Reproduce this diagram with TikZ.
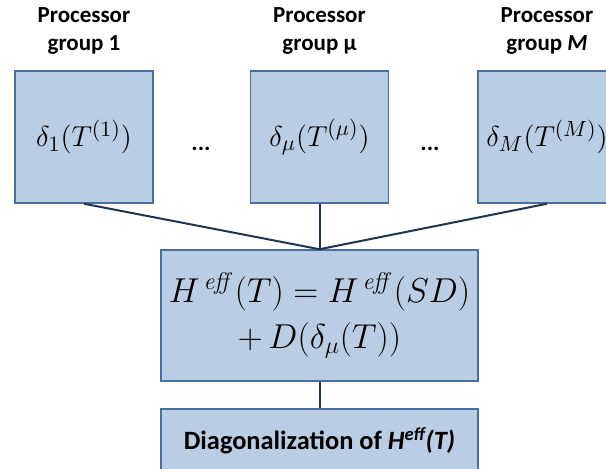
\documentclass[tikz,border=0pt]{standalone}
\usepackage[no-math]{fontspec}
\setmainfont{Carlito}
\definecolor{boxfill}{HTML}{B9CDE5}
\definecolor{boxline}{HTML}{4A6F9C}
\definecolor{wire}{HTML}{1F3552}
\tikzset{
  groupbox/.style={draw=boxline, fill=boxfill, line width=0.75pt,
    minimum width=69pt, minimum height=66pt, inner sep=0pt,
    font=\fontsize{15}{18}\selectfont},
  sumbox/.style={draw=boxline, fill=boxfill, line width=0.75pt,
    minimum width=158.5pt, minimum height=65.5pt, inner sep=0pt, align=center,
    font=\fontsize{17}{21}\selectfont},
  grouplabel/.style={align=center, font=\bfseries\fontsize{11.5}{13.5}\selectfont},
  wire/.style={draw=wire, line width=1pt}
}
\begin{document}
\begin{tikzpicture}[x=0.5pt, y=-0.5pt]
    \useasboundingbox (0,0) rectangle (606,469);
    \clip (0,0) rectangle (606,469);

    % labels of the processor groups
    \node[grouplabel] (lab1) at (84,31) {Processor\\group 1};
    \node[grouplabel] (labmu) at (319.5,31) {Processor\\group μ};
    \node[grouplabel] (labM) at (547,31) {Processor\\group \textit{M}};

    % one box per processor group
    \node[groupbox] (g1) at (84,137) {$\delta_{1}(T^{(1)})$};
    \node[groupbox] (gmu) at (319.5,137) {$\delta_{\mu}(T^{(\mu)})$};
    \node[groupbox] (gM) at (547,137) {$\delta_{M}(T^{(M)})$};

    % dots between the groups
    \node[font=\bfseries\fontsize{12}{14}\selectfont] (dots1) at (201,149) {...};
    \node[font=\bfseries\fontsize{12}{14}\selectfont] (dots2) at (430,149) {...};

    % sum of the contributions
    \node[sumbox] (sum) at (319.5,315.5)
      {$H^{\,\mathit{eff}}(T) = H^{\,\mathit{eff}}(SD)$\\[2pt] $+\,D(\delta_{\mu}(T))$};

    % final step
    \node[sumbox, minimum height=32pt, font=\bfseries\fontsize{13.2}{15}\selectfont] (diag) at (319.5,441)
      {Diagonalization of \textit{H\textsuperscript{eff}(T)}};

    % connectors
    \draw[wire] (g1.south) -- (sum.north);
    \draw[wire] (gmu.south) -- (sum.north);
    \draw[wire] (gM.south) -- (sum.north);
    \draw[wire] (sum.south) -- (diag.north);
\end{tikzpicture}
\end{document}
